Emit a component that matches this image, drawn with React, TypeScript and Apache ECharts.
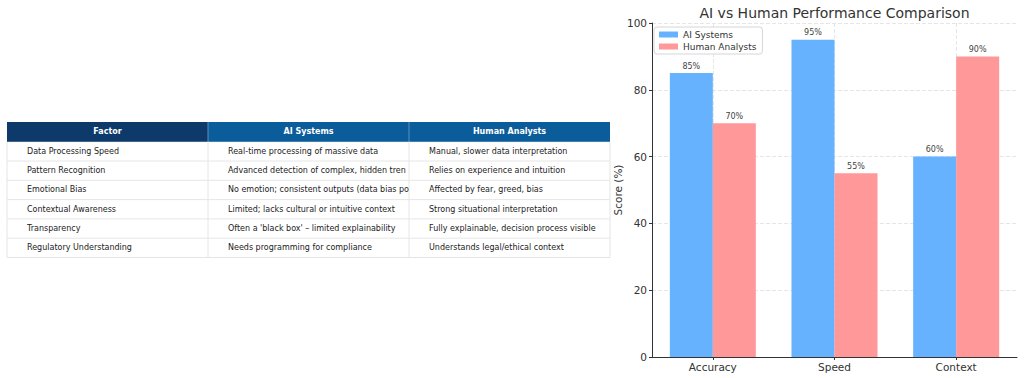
import React, { useEffect, useRef } from "react";
import * as echarts from "echarts";

const categories = ["Accuracy", "Speed", "Context"];
const aiValues = [85, 95, 60];
const humanValues = [70, 55, 90];
const seriesNames = ["AI Systems", "Human Analysts"];
const yTicks = [0, 20, 40, 60, 80, 100];

const tableHeaders = ["Factor", "AI Systems", "Human Analysts"];
const factors = [
  "Data Processing Speed",
  "Pattern Recognition",
  "Emotional Bias",
  "Contextual Awareness",
  "Transparency",
  "Regulatory Understanding",
];
const aiColumn = [
  "Real-time processing of massive data",
  "Advanced detection of complex, hidden trends",
  "No emotion; consistent outputs (data bias possible)",
  "Limited; lacks cultural or intuitive context",
  "Often a 'black box' – limited explainability",
  "Needs programming for compliance",
];
const humanColumn = [
  "Manual, slower data interpretation",
  "Relies on experience and intuition",
  "Affected by fear, greed, bias",
  "Strong situational interpretation",
  "Fully explainable, decision process visible",
  "Understands legal/ethical context",
];

const FONT = '"DejaVu Sans", "Liberation Sans", sans-serif';

function buildTable() {
  const x0 = 7;
  const colW = 201;
  const headTop = 122;
  const headH = 19.7;
  const rowH = 19.3;
  const headColors = ["#0d3a6b", "#0b5c9b", "#0b5c9b"];
  const cols = [factors, aiColumn, humanColumn];
  const els: any[] = [];
  const nRows = factors.length;
  const bodyTop = headTop + headH;
  const totalW = colW * 3;
  els.push({
    type: "rect",
    shape: { x: x0, y: bodyTop, width: totalW, height: rowH * nRows },
    style: { fill: "#ffffff", stroke: "#e4e4e4", lineWidth: 1 },
  });
  tableHeaders.forEach((h, i) => {
    els.push({
      type: "rect",
      shape: { x: x0 + i * colW, y: headTop, width: colW, height: headH },
      style: { fill: headColors[i] },
    });
    els.push({
      type: "text",
      x: x0 + i * colW + colW / 2,
      y: headTop + headH / 2,
      style: {
        text: h,
        fill: "#ffffff",
        fontSize: 8,
        fontWeight: "bold",
        fontFamily: FONT,
        align: "center",
        verticalAlign: "middle",
      },
    });
  });
  for (let i = 1; i < 3; i++) {
    els.push({
      type: "line",
      shape: { x1: x0 + i * colW, y1: headTop, x2: x0 + i * colW, y2: bodyTop },
      style: { stroke: "#5f8fbd", lineWidth: 1 },
    });
  }
  for (let r = 1; r < nRows; r++) {
    const y = bodyTop + r * rowH;
    els.push({
      type: "line",
      shape: { x1: x0, y1: y, x2: x0 + totalW, y2: y },
      style: { stroke: "#e6e6e6", lineWidth: 1 },
    });
  }
  for (let i = 1; i < 3; i++) {
    els.push({
      type: "line",
      shape: { x1: x0 + i * colW, y1: bodyTop, x2: x0 + i * colW, y2: bodyTop + rowH * nRows },
      style: { stroke: "#e6e6e6", lineWidth: 1 },
    });
  }
  cols.forEach((col, ci) => {
    col.forEach((t, ri) => {
      els.push({
        type: "text",
        x: x0 + ci * colW + 20,
        y: bodyTop + ri * rowH + rowH / 2,
        style: {
          text: t,
          fill: "#222222",
          fontSize: 8,
          fontFamily: FONT,
          align: "left",
          verticalAlign: "middle",
          width: colW - 18,
          overflow: "truncate",
          ellipsis: "",
        },
      });
    });
  });
  return els;
}

export default function App() {
  const ref = useRef<HTMLDivElement>(null);
  useEffect(() => {
    if (!ref.current) return;
    const chart = echarts.init(ref.current, undefined, { renderer: "svg" });
    const barLabel = {
      show: true,
      position: "top",
      distance: 3,
      fontSize: 8,
      color: "#444",
      fontFamily: FONT,
      formatter: "{c}%",
    };
    chart.setOption({
      animation: false,
      backgroundColor: "#ffffff",
      textStyle: { fontFamily: FONT },
      grid: { left: 652, top: 23, width: 365, bottom: 21, containLabel: false },
      legend: {
        data: seriesNames,
        orient: "vertical",
        left: 654,
        top: 27,
        padding: [3, 6, 3, 5],
        itemWidth: 19,
        itemHeight: 6,
        itemGap: 3,
        icon: "rect",
        backgroundColor: "rgba(255,255,255,0.85)",
        borderColor: "#d6d6d6",
        borderWidth: 1,
        borderRadius: 3,
        textStyle: { fontSize: 9, color: "#333", fontFamily: FONT },
      },
      xAxis: {
        type: "category",
        data: categories,
        axisLine: { show: true, lineStyle: { color: "#333", width: 1 } },
        axisTick: { show: true, alignWithLabel: true, length: 3, lineStyle: { color: "#333" } },
        axisLabel: { fontSize: 10.5, color: "#333", margin: 4, fontFamily: FONT },
        splitLine: { show: false },
      },
      yAxis: {
        type: "value",
        min: 0,
        max: 100,
        interval: 20,
        name: "Score (%)",
        nameLocation: "middle",
        nameRotate: 90,
        nameGap: 29,
        nameTextStyle: { fontSize: 10.5, color: "#333", fontFamily: FONT },
        axisLine: { show: true, lineStyle: { color: "#333", width: 1 } },
        axisTick: { show: true, length: 3, lineStyle: { color: "#333" } },
        axisLabel: {
          fontSize: 10.5,
          color: "#333",
          margin: 5,
          fontFamily: FONT,
          formatter: (v: number) => (yTicks.includes(v) ? String(v) : ""),
        },
        splitLine: { show: true, lineStyle: { color: "#e6e6e6", type: "dashed", width: 1 } },
      },
      series: [
        {
          name: "grid-v",
          type: "line",
          data: [],
          z: 0,
          silent: true,
          markLine: {
            silent: true,
            z: 0,
            zlevel: 0,
            symbol: ["none", "none"],
            label: { show: false },
            lineStyle: { color: "#e6e6e6", type: "dashed", width: 1 },
            data: categories.map((c) => ({ xAxis: c })),
          },
        },
        {
          name: seriesNames[0],
          type: "bar",
          data: aiValues,
          barWidth: 43,
          barGap: "0%",
          z: 3,
          itemStyle: { color: "#66b2ff" },
          label: barLabel,
        },
        {
          name: seriesNames[1],
          type: "bar",
          data: humanValues,
          barWidth: 43,
          barGap: "0%",
          z: 3,
          itemStyle: { color: "#ff9999" },
          label: barLabel,
        },
      ],
      graphic: [
        {
          type: "text",
          x: 834.5,
          y: 12.5,
          style: {
            text: "AI vs Human Performance Comparison",
            fill: "#333",
            fontSize: 14,
            fontFamily: FONT,
            align: "center",
            verticalAlign: "middle",
          },
        },
        ...buildTable(),
      ],
    });
    return () => chart.dispose();
  }, []);
  return (
    <div
      ref={ref}
      style={{ position: "fixed", left: 0, top: 0, width: 1024, height: 378 }}
    />
  );
}
